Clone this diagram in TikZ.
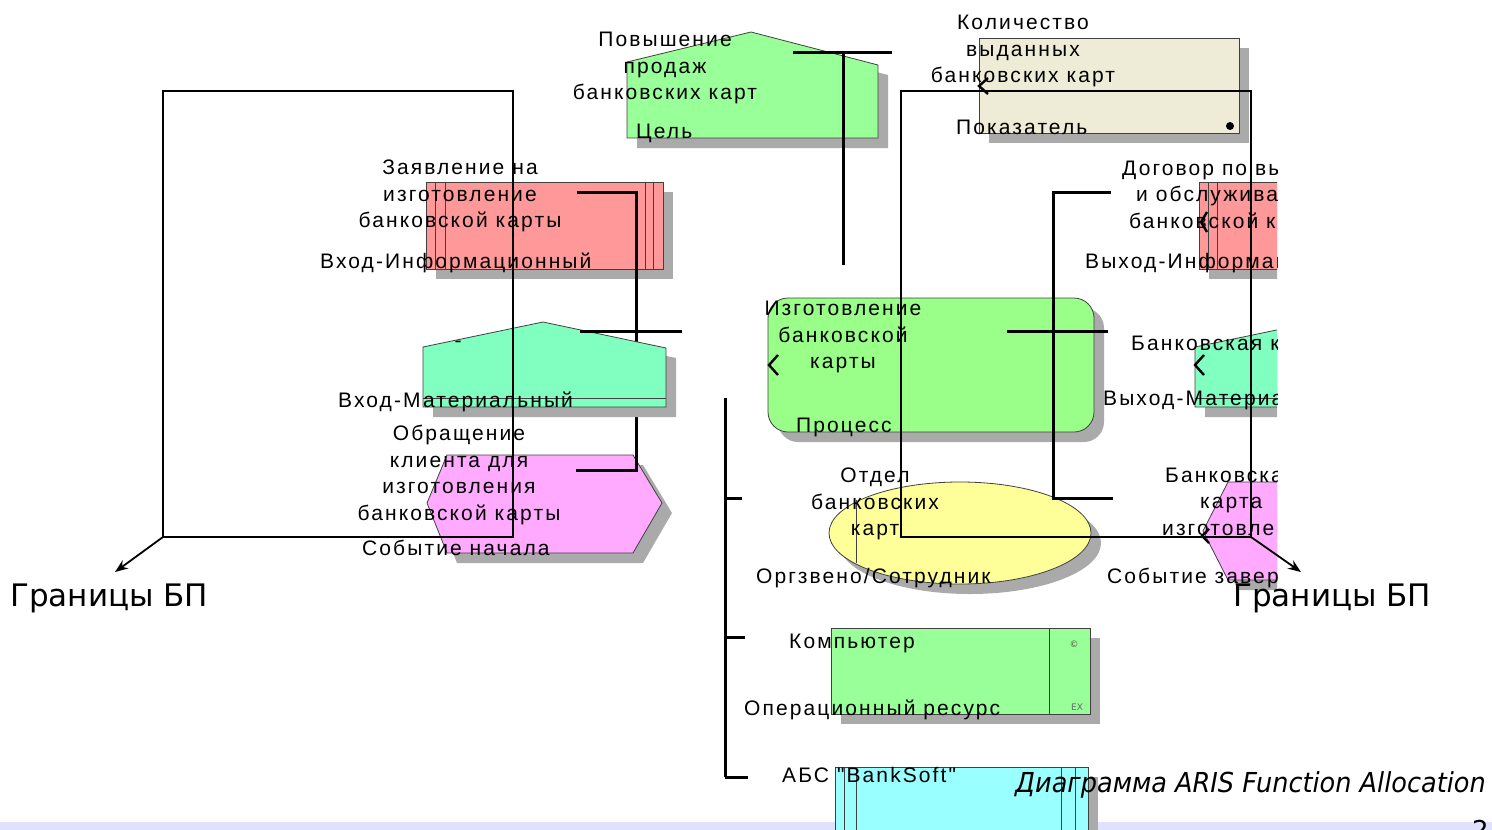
\documentclass[tikz,border=0pt]{standalone}
\usepackage{fontspec}
\newfontfamily\arisfont{Liberation Sans}[LetterSpace=10]
\newfontfamily\slidefont{DejaVu Sans}
\usetikzlibrary{arrows.meta}
\definecolor{goalgreen}{RGB}{153,255,153}
\definecolor{procgreen}{RGB}{153,255,136}
\definecolor{kpibeige}{RGB}{238,236,214}
\definecolor{infored}{RGB}{255,153,153}
\definecolor{matmint}{RGB}{128,255,192}
\definecolor{eventpink}{RGB}{255,170,255}
\definecolor{orgyellow}{RGB}{255,255,153}
\definecolor{softcyan}{RGB}{153,255,255}
\definecolor{shadowgray}{RGB}{170,170,170}
\definecolor{bandlilac}{RGB}{224,224,255}

\begin{document}
\begin{tikzpicture}[x=1pt,y=-1pt,
    obj_shadow/.style={fill=shadowgray, draw=none, transform canvas={xshift=10pt,yshift=-10pt}},
    obj_line/.style={draw=black!75, line width=0.8pt, preaction={obj_shadow}},
    name_text/.style={font=\arisfont\fontsize{21}{26.5}\selectfont, inner sep=0pt, align=center, anchor=north},
    type_text/.style={font=\arisfont\fontsize{21}{26.5}\selectfont, inner sep=0pt, anchor=base west},
    bp_text/.style={font=\slidefont\fontsize{31}{36}\selectfont, inner sep=0pt, anchor=base west},
    link/.style={line width=3pt},
    hook/.style={line width=2.4pt},
    bound/.style={line width=1.8pt},
    bound_arrow/.style={line width=1.8pt, -{Stealth[length=13pt,width=10pt]}}]
    \useasboundingbox (0,0) rectangle (1492,830);
    \clip (0,0) rectangle (1492,830);

    % slide footer
    \fill[bandlilac] (0,822) rectangle (1492,830);
    \node[anchor=north west, font=\slidefont\fontsize{26}{30}\selectfont, inner sep=0pt] (page) at (1472,820) {2};

    % goal and indicator
    \filldraw[obj_line, fill=goalgreen] (627,138) -- (627,62) -- (751,32) -- (878,65) -- (878,138) -- cycle;
    \filldraw[obj_line, fill=kpibeige] (979,38) rectangle (1239,133);
    \fill (1230,126) circle (4);

    % inputs
    \filldraw[obj_line, fill=infored] (426,182) rectangle (663,269);
    \draw[black!75] (435,182) -- (435,269) (445,182) -- (445,269) (645,182) -- (645,269) (653,182) -- (653,269);
    \filldraw[obj_line, fill=eventpink] (427,503) -- (447,455) -- (633,455) -- (662,503) -- (633,553) -- (447,553) -- cycle;

    \coordinate (info_out) at (577,192);
    \coordinate (info_bend) at (636,192);
    \coordinate (event_bend) at (636,470);
    \coordinate (event_in) at (576,470);
    \draw[link] (info_out) -- (info_bend) -- (event_bend) -- (event_in);

    \filldraw[obj_line, fill=matmint] (423,407) -- (423,347) -- (543,322) -- (666,348) -- (666,407) -- cycle;
    \draw[black!75] (423,398) -- (666,398);

    % function, org unit, resources
    \filldraw[obj_line, fill=procgreen, rounded corners=20pt] (768,298) rectangle (1094,432);
    \filldraw[obj_line, fill=orgyellow] (960,533) ellipse [x radius=131, y radius=51];
    \draw[black!75] (856,500) -- (856,563);
    \filldraw[obj_line, fill=goalgreen] (831,628) rectangle (1090,714);
    \draw[black!75] (1049,628) -- (1049,714);
    \node[font=\slidefont\fontsize{9}{9}\selectfont, text=black!70, inner sep=0pt] (pc_mark) at (1074,644) {©};
    \node[font=\slidefont\fontsize{9}{9}\selectfont, text=black!60, inner sep=0pt] (pc_ex) at (1077,707) {EX};
    \filldraw[obj_line, fill=softcyan] (835,767) rectangle (1088,845);
    \draw[black!75] (844,767) -- (844,845) (856,767) -- (856,845) (1061,767) -- (1061,845) (1075,767) -- (1075,845);

    % outputs, cut at the frame edge
    \begin{scope}
        \clip (0,0) rectangle (1277,830);
        \filldraw[obj_line, fill=infored] (1199,182) rectangle (1436,269);
        \draw[black!75] (1208,182) -- (1208,269) (1217,182) -- (1217,269);
        \filldraw[obj_line, fill=matmint] (1195,407) -- (1195,347) -- (1315,322) -- (1438,348) -- (1438,407) -- cycle;
        \draw[black!75] (1195,398) -- (1438,398);
        \filldraw[obj_line, fill=eventpink] (1203,531) -- (1228,482) -- (1420,482) -- (1448,531) -- (1420,580) -- (1228,580) -- cycle;

        \node[type_text] (contract_1) at (1122,175) {Договор по выпуску};
        \node[type_text] (contract_2) at (1136,201.5) {и обслуживанию};
        \node[type_text] (contract_3) at (1129,228) {банковской карты};
        \node[type_text] (out_info_type) at (1085,268) {Выход-Информационный};
        \node[type_text] (card_name) at (1131,350) {Банковская карта};
        \node[type_text] (out_mat_type) at (1103,405) {Выход-Материальный};
        \node[type_text] (done_1) at (1165,482) {Банковская};
        \node[type_text] (done_2) at (1200,508.5) {карта};
        \node[type_text] (done_3) at (1162,535) {изготовлена};
        \node[type_text] (end_type) at (1107,583) {Событие завершения};
    \end{scope}

    % object names and types
    \node[name_text] (goal_name) at (665,32) {Повышение\\продаж\\банковских карт};
    \node[type_text] (goal_type) at (636,138) {Цель};
    \node[name_text] (kpi_name) at (1023,15) {Количество\\выданных\\банковских карт};
    \node[type_text] (kpi_type) at (956,134) {Показатель};
    \node[name_text] (request_name) at (460,160) {Заявление на\\изготовление\\банковской карты};
    \node[type_text] (in_info_type) at (320,268) {Вход-Информационный};
    \node[name_text, anchor=center] (mat_name) at (458,344) {-};
    \node[type_text] (in_mat_type) at (338,407) {Вход-Материальный};
    \node[name_text] (start_name) at (459,425) {Обращение\\клиента для\\изготовления\\банковской карты};
    \node[type_text] (start_type) at (362,555) {Событие начала};
    \node[name_text] (proc_name) at (843,301) {Изготовление\\банковской\\карты};
    \node[type_text] (proc_type) at (796,432) {Процесс};
    \node[name_text] (org_name) at (875,468) {Отдел\\банковских\\карт};
    \node[type_text] (org_type) at (756,583) {Оргзвено/Сотрудник};
    \node[type_text] (pc_name) at (789,648) {Компьютер};
    \node[type_text] (pc_type) at (744,715) {Операционный ресурс};
    \node[type_text] (abs_name) at (782,782) {АБС "BankSoft"};

    % connections
    \coordinate (goal_l) at (793,52);
    \coordinate (goal_r) at (892,52);
    \coordinate (goal_top) at (843,52);
    \coordinate (goal_down) at (843,265);
    \draw[link] (goal_l) -- (goal_r) (goal_top) -- (goal_down);
    \coordinate (mat_l) at (580,331);
    \coordinate (mat_r) at (682,331);
    \draw[link] (mat_l) -- (mat_r);
    \coordinate (proc_l) at (1007,331);
    \coordinate (proc_r) at (1108,331);
    \draw[link] (proc_l) -- (proc_r);
    \coordinate (out_top) at (1111,192);
    \coordinate (out_top_bend) at (1053,192);
    \coordinate (out_low_bend) at (1053,498);
    \coordinate (out_low) at (1113,498);
    \draw[link] (out_top) -- (out_top_bend) -- (out_low_bend) -- (out_low);
    \coordinate (res_top) at (725,398);
    \coordinate (res_bottom) at (725,777);
    \draw[link] (res_top) -- (res_bottom);
    \draw[link] (725,498) -- (742,498) (725,637) -- (745,637) (725,777) -- (748,777);

    % small arrow ends
    \draw[hook] (988,78) -- (979,86) -- (988,94);
    \draw[hook] (778,355) -- (769,365) -- (778,375);
    \draw[hook] (1207,212) -- (1201,222) -- (1207,232);
    \draw[hook] (1204,355) -- (1195,365) -- (1204,375);
    \draw[hook] (1209,529) -- (1202,536) -- (1209,543);

    % process borders
    \draw[bound] (163,91) rectangle (513,537);
    \coordinate (left_corner) at (163,537);
    \coordinate (left_tip) at (115,572);
    \draw[bound_arrow] (left_corner) -- (left_tip);
    \node[bp_text] (left_bp) at (10,606) {Границы БП};
    \draw[bound] (901,91) rectangle (1251,537);
    \coordinate (right_corner) at (1251,537);
    \coordinate (right_tip) at (1301,572);
    \draw[bound_arrow] (right_corner) -- (right_tip);
    \node[bp_text] (right_bp) at (1233,606) {Границы БП};

    \node[anchor=base west, inner sep=0pt, font=\slidefont\itshape\fontsize{27.5}{30}\selectfont] (title) at (1015,792) {\scalebox{0.93}[1]{Диаграмма ARIS Function Allocation}};
\end{tikzpicture}
\end{document}
